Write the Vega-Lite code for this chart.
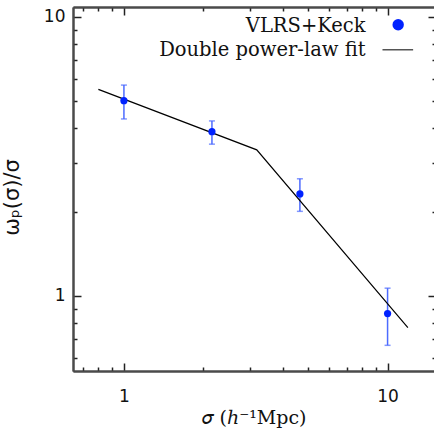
{
  "$schema": "https://vega.github.io/schema/vega-lite/v6.json",
  "width": 361,
  "height": 364,
  "autosize": {"type": "none"},
  "padding": {"left": 73, "top": 7, "right": 0, "bottom": 64},
  "background": "white",
  "config": {
    "view": {"stroke": null},
    "axis": {"grid": false, "domainColor": "#4a4a4a", "domainWidth": 2, "tickColor": "#222222", "tickWidth": 1.5, "labelColor": "#111111", "titleColor": "#111111", "labelFlush": false, "labelOverlap": false}
  },
  "datasets": {
    "obs": [
      {"sigma": 1, "w": 5.01, "lo": 4.31, "hi": 5.70},
      {"sigma": 2.157, "w": 3.88, "lo": 3.50, "hi": 4.24},
      {"sigma": 4.65, "w": 2.32, "lo": 2.01, "hi": 2.63},
      {"sigma": 10, "w": 0.864, "lo": 0.665, "hi": 1.066}
    ],
    "fit": [
      {"sigma": 0.8, "w": 5.5},
      {"sigma": 3.19, "w": 3.34},
      {"sigma": 11.94, "w": 0.77}
    ]
  },
  "layer": [
    {
      "data": {"name": "obs"},
      "mark": {"type": "rule", "color": "#4d6bff", "strokeWidth": 1.5},
      "encoding": {
        "x": {"field": "sigma", "type": "quantitative", "scale": {"type": "log", "domain": [0.641, 15.0], "nice": false},
          "axis": {"orient": "bottom", "values": [1, 10], "tickSize": -8, "labelPadding": 25, "labelFont": "DejaVu Sans", "labelFontSize": 17, "labelExpr": "format(datum.value, 'd')", "title": "𝜎 (ℎ⁻¹Mpc)", "titleFont": "DejaVu Serif", "titleFontSize": 19, "titleFontWeight": "normal", "titleY": 52, "titleBaseline": "alphabetic"}},
        "y": {"field": "lo", "type": "quantitative", "scale": {"type": "log", "domain": [0.538, 10.86], "nice": false},
          "axis": {"orient": "left", "values": [1, 10], "tickSize": -8, "labelPadding": 16, "labelFont": "DejaVu Sans", "labelFontSize": 17, "labelExpr": "format(datum.value, 'd')", "title": "ωₚ(σ)/σ", "titleFont": "DejaVu Sans", "titleFontSize": 21, "titleFontWeight": "normal", "titleX": -61, "titleY": 190, "titleBaseline": "middle", "titleAlign": "center"}},
        "y2": {"field": "hi"}
      }
    },
    {
      "data": {"name": "obs"},
      "mark": {"type": "tick", "orient": "horizontal", "color": "#4d6bff", "size": 6, "thickness": 1.5},
      "encoding": {
        "x": {"field": "sigma", "type": "quantitative", "axis": {"orient": "bottom", "values": [0.7, 0.8, 0.9, 2, 3, 4, 5, 6, 7, 8, 9], "tickSize": -4, "labels": false, "title": null}},
        "y": {"field": "hi", "type": "quantitative", "axis": {"orient": "left", "values": [0.6, 0.7, 0.8, 0.9, 2, 3, 4, 5, 6, 7, 8, 9], "tickSize": -4, "labels": false, "title": null}}
      }
    },
    {
      "data": {"name": "obs"},
      "mark": {"type": "tick", "orient": "horizontal", "color": "#4d6bff", "size": 6, "thickness": 1.5},
      "encoding": {
        "x": {"field": "sigma", "type": "quantitative", "axis": {"orient": "top", "values": [1, 10], "tickSize": -8, "labels": false, "title": null}},
        "y": {"field": "lo", "type": "quantitative", "axis": {"orient": "right", "values": [1, 10], "tickSize": -6, "domain": false, "labels": false, "title": null}}
      }
    },
    {
      "data": {"name": "fit"},
      "mark": {"type": "line", "color": "#000000", "strokeWidth": 1.2},
      "encoding": {
        "x": {"field": "sigma", "type": "quantitative", "axis": {"orient": "top", "values": [0.7, 0.8, 0.9, 2, 3, 4, 5, 6, 7, 8, 9], "tickSize": -4, "labels": false, "title": null}},
        "y": {"field": "w", "type": "quantitative", "axis": {"orient": "right", "values": [0.6, 0.7, 0.8, 0.9, 2, 3, 4, 5, 6, 7, 8, 9], "tickSize": -2, "domain": false, "labels": false, "title": null}}
      }
    },
    {
      "data": {"name": "obs"},
      "mark": {"type": "point", "shape": "circle", "filled": true, "color": "#0022ff", "opacity": 1, "size": 52},
      "encoding": {
        "x": {"field": "sigma", "type": "quantitative", "axis": null},
        "y": {"field": "w", "type": "quantitative", "axis": null}
      }
    },
    {
      "data": {"values": [{}]},
      "mark": {"type": "text", "text": "VLRS+Keck", "align": "right", "baseline": "alphabetic", "font": "DejaVu Serif", "fontSize": 19.5, "color": "#111111"},
      "encoding": {
        "x": {"datum": 8.25, "type": "quantitative", "axis": null},
        "y": {"datum": 8.84, "type": "quantitative", "axis": null}
      }
    },
    {
      "data": {"values": [{}]},
      "mark": {"type": "text", "text": "Double power-law fit", "align": "right", "baseline": "alphabetic", "font": "DejaVu Serif", "fontSize": 19.5, "color": "#111111"},
      "encoding": {
        "x": {"datum": 8.25, "type": "quantitative", "axis": null},
        "y": {"datum": 7.235, "type": "quantitative", "axis": null}
      }
    },
    {
      "data": {"values": [{}]},
      "mark": {"type": "point", "shape": "circle", "filled": true, "color": "#0022ff", "opacity": 1, "size": 130},
      "encoding": {
        "x": {"datum": 10.97, "type": "quantitative", "axis": null},
        "y": {"datum": 9.385, "type": "quantitative", "axis": null}
      }
    },
    {
      "data": {"values": [{}]},
      "mark": {"type": "rule", "color": "#555555", "strokeWidth": 1.5},
      "encoding": {
        "x": {"datum": 9.565, "type": "quantitative", "axis": null},
        "x2": {"datum": 12.5},
        "y": {"datum": 7.63, "type": "quantitative", "axis": null}
      }
    }
  ]
}
